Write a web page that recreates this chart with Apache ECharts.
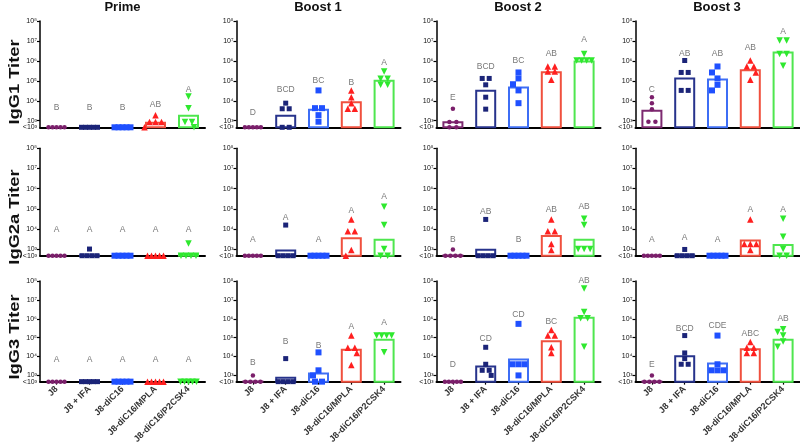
<!DOCTYPE html>
<html><head><meta charset="utf-8">
<script src="https://cdn.jsdelivr.net/npm/echarts@6/dist/echarts.min.js"></script>
<style>html,body{margin:0;padding:0;background:#fff}#c{width:800px;height:446px}</style>
</head><body><div id="c"></div>
<script>
// ---------- categories & labels ----------
const groups = ['J8', 'J8 + IFA', 'J8-diC16', 'J8-diC16/MPLA', 'J8-diC16/P2CSK4'];
const phases = ['Prime', 'Boost 1', 'Boost 2', 'Boost 3'];
const isotypes = ['IgG1 Titer', 'IgG2a Titer', 'IgG3 Titer'];
const yTickExps = [3, 4, 5, 6, 7, 8];           // tick labels 10^3 ... 10^8
const L = 2.67;                                  // "<10³" (below detection), log10 titer

// ---------- data (log10 titer per mouse), [J8, IFA, diC16, MPLA, P2CSK4] ----------
const IgG1_Prime  = [[L,L,L,L,L],[L,L,L,L,L],[L,L,L,L,L],[3.27,2.93,2.93,2.93,L],[4.22,3.62,2.93,2.93,L]];
const IgG1_Boost1 = [[L,L,L,L,L],[3.88,3.6,3.6,L,L],[4.52,3.63,3.63,3.28,2.95],[4.52,4.18,3.88,3.6,3.6],[5.47,5.1,5.1,4.8,4.8]];
const IgG1_Boost2 = [[3.6,2.93,2.93,L,L],[5.12,5.12,4.8,4.18,3.58],[5.42,5.12,4.83,4.52,3.88],[5.72,5.72,5.47,5.47,5.05],[6.35,6.02,6.02,6.02,6.02]];
const IgG1_Boost3 = [[4.18,3.88,3.58,2.95,2.95],[6.02,5.42,5.42,4.52,4.52],[5.72,5.42,5.12,4.8,4.52],[6.02,5.72,5.72,5.42,5.05],[7.02,7.02,6.35,6.35,5.75]];

const IgG2a_Prime  = [[L,L,L,L,L],[3.0,L,L,L,L],[L,L,L,L,L],[L,L,L,L,L],[3.28,L,L,L,L]];
const IgG2a_Boost1 = [[L,L,L,L,L],[4.19,L,L,L,L],[L,L,L,L,L],[4.47,3.88,3.88,2.95,L],[5.1,4.19,3.0,L,L]];
const IgG2a_Boost2 = [[2.98,L,L,L,L],[4.47,L,L,L,L],[L,L,L,L,L],[4.47,3.88,3.88,3.25,2.95],[4.5,4.19,3.0,3.0,3.0]];
const IgG2a_Boost3 = [[L,L,L,L,L],[2.98,L,L,L,L],[L,L,L,L,L],[4.47,3.25,3.25,3.25,2.95],[4.5,3.61,3.0,L,L]];

const IgG3_Prime  = [[L,L,L,L,L],[L,L,L,L,L],[L,L,L,L,L],[L,L,L,L,L],[L,L,L,L,L]];
const IgG3_Boost1 = [[3.0,L,L,L,L],[3.89,L,L,L,L],[4.22,3.27,3.0,L,L],[5.11,4.47,4.47,4.19,3.55],[5.11,5.11,5.11,5.11,4.22]];
const IgG3_Boost2 = [[L,L,L,L,L],[4.49,3.59,3.27,3.27,3.0],[5.73,3.59,3.59,3.59,3.0],[5.41,5.11,5.11,4.49,4.19],[7.6,6.36,6.03,6.03,4.52]];
const IgG3_Boost3 = [[3.0,L,L,L,L],[5.11,4.19,3.89,3.59,3.59],[5.11,3.59,3.27,3.27,3.27],[4.77,4.47,4.47,4.19,4.19],[5.44,5.3,5.11,4.8,4.52]];

// bar heights (group mean, log10 titer) per phase
const IgG1_means  = [[L,L,L,2.95,3.3],[L,3.3,3.6,3.97,5.05],[2.97,4.55,4.72,5.48,6.02],[3.55,5.17,5.12,5.58,6.47]];
const IgG2a_means = [[L,2.73,L,L,2.79],[L,2.98,L,3.58,3.51],[2.73,3.02,L,3.7,3.51],[L,2.73,L,3.48,3.25]];
const IgG3_means  = [[L,L,L,L,L],[2.73,2.93,3.15,4.41,4.94],[L,3.52,3.9,4.86,6.11],[2.73,4.07,3.69,4.44,4.94]];

// significance letters and the level (log10 titer) they sit at
const IgG1_letters  = [['B','B','B','AB','A'],['D','BCD','BC','B','A'],['E','BCD','BC','AB','A'],['C','AB','AB','AB','A']];
const IgG1_letterY  = [[3.65,3.65,3.65,3.83,4.58],[3.42,4.55,5.0,4.93,5.92],[4.18,5.72,6.02,6.38,7.05],[4.58,6.38,6.38,6.67,7.47]];
const IgG2a_letters = [['A','A','A','A','A'],['A','A','A','A','A'],['B','AB','B','AB','AB'],['A','A','A','A','A']];
const IgG2a_letterY = [[3.98,3.98,3.98,3.98,3.98],[3.48,4.57,3.48,4.89,5.6],[3.48,4.85,3.48,4.97,5.1],[3.48,3.58,3.48,4.97,4.97]];
const IgG3_letters  = [['A','A','A','A','A'],['B','B','B','A','A'],['D','CD','CD','BC','AB'],['E','BCD','CDE','ABC','AB']];
const IgG3_letterY  = [[3.82,3.82,3.82,3.82,3.82],[3.65,4.77,4.6,5.56,5.78],[3.55,4.94,6.23,5.83,8.0],[3.55,5.49,5.61,5.19,6.03]];

// ---------- assemble ----------
const points  = [[IgG1_Prime,IgG1_Boost1,IgG1_Boost2,IgG1_Boost3],
                 [IgG2a_Prime,IgG2a_Boost1,IgG2a_Boost2,IgG2a_Boost3],
                 [IgG3_Prime,IgG3_Boost1,IgG3_Boost2,IgG3_Boost3]];
const means   = [IgG1_means, IgG2a_means, IgG3_means];
const letters = [IgG1_letters, IgG2a_letters, IgG3_letters];
const letterY = [IgG1_letterY, IgG2a_letterY, IgG3_letterY];

// ---------- style / layout ----------
const FONT = 'Liberation Sans, Arial, sans-serif';
const colLeft = [40, 236.5, 436.5, 635.5], colWidth = [165, 164, 164, 164];
const rowTop = [21, 148.3, 281], rowHeight = [106.3, 107.4, 106];
const pointColors = ['#7b1f6b', '#1b2478', '#1f50ff', '#ff1f1f', '#2ee82e'];
const barColors   = ['#7d2a70', '#27338c', '#3e6ef5', '#f0503e', '#4ee64e'];
const symbols     = ['circle', 'rect', 'rect', 'triangle', 'triangle'];
const symRot      = [0, 0, 0, 0, 180];
const symSize     = [4.5, 5, 6, 6.5, 6.5];
const sup = {3:'³',4:'⁴',5:'⁵',6:'⁶',7:'⁷',8:'⁸'};

// column-scatter spreading (beeswarm-like), in pixels; PX = approx pixels per decade
function jitter(vals) {
  const PX = 20, S = 5.5, DY = 6;
  const n = vals.length, offs = new Array(n).fill(0);
  const order = vals.map((v, i) => i).sort((a, b) => vals[b] - vals[a]);
  const placed = [];
  order.forEach(i => {
    const y = vals[i] * PX;
    for (let k = 0; k < 20; k++) {
      const cand = k === 0 ? 0 : (k % 2 ? -1 : 1) * Math.ceil(k / 2) * S;
      if (!placed.some(p => Math.abs(p.dx - cand) < S - 0.01 && Math.abs(p.y - y) < DY)) {
        offs[i] = cand; placed.push({ dx: cand, y }); break;
      }
    }
  });
  const done = new Array(n).fill(false);
  for (let i = 0; i < n; i++) {
    if (done[i]) continue;
    const same = [];
    for (let j = 0; j < n; j++) if (!done[j] && Math.abs(vals[j] - vals[i]) < 0.02) { same.push(j); done[j] = true; }
    if (same.length < 2) continue;
    const k = same.length, s = k >= 5 ? 4 : k === 4 ? 5 : k === 3 ? 6 : 7;
    same.sort((a, b) => offs[a] - offs[b]).forEach((idx, m) => offs[idx] = (m - (k - 1) / 2) * s);
  }
  return offs;
}

const grids = [], xAxes = [], yAxes = [], series = [];
let gi = 0;
for (let r = 0; r < 3; r++) {
  for (let c = 0; c < 4; c++) {
    grids.push({ left: colLeft[c], top: rowTop[r], width: colWidth[c], height: rowHeight[r] });
    const bottom = r === 2;
    xAxes.push({
      type: 'category', gridIndex: gi, data: groups, boundaryGap: true,
      axisLine: { show: true, lineStyle: { color: '#000', width: 2 } },
      axisTick: { show: bottom, alignWithLabel: true, length: 3, lineStyle: { color: '#000', width: 1.2 } },
      axisLabel: { show: bottom, rotate: 45, interval: 0, fontSize: 9, fontWeight: 'bold',
                   color: '#333', fontFamily: FONT, margin: 6 },
      splitLine: { show: false }
    });
    // main log-titer axis (10^3 ... 10^8)
    yAxes.push({
      type: 'value', gridIndex: gi, min: L, max: 8,
      axisLine: { show: true, lineStyle: { color: '#000', width: 1.5 } },
      axisTick: { show: true, length: 3, customValues: yTickExps, lineStyle: { color: '#000', width: 1.2 } },
      axisLabel: { show: true, customValues: yTickExps, fontSize: 7, color: '#111',
                   fontFamily: FONT, margin: 3, showMinLabel: true, showMaxLabel: true,
                   formatter: v => '10' + sup[Math.round(v)] },
      splitLine: { show: false }
    });
    // companion axis carrying only the "<10³" floor label
    yAxes.push({
      type: 'value', gridIndex: gi, min: L, max: 8, position: 'left', offset: 0,
      axisLine: { show: false }, axisTick: { show: false }, splitLine: { show: false },
      axisLabel: { show: true, customValues: [L], fontSize: 7, color: '#111', fontFamily: FONT,
                   margin: 3, showMinLabel: true, formatter: () => '<10³' }
    });
    const yi = gi * 2;
    series.push({
      type: 'bar', xAxisIndex: gi, yAxisIndex: yi, barWidth: 21, z: 2, clip: true,
      data: means[r][c].map((v, k) => ({ value: v,
        itemStyle: { color: 'rgba(255,255,255,0)', borderColor: barColors[k], borderWidth: 2 } }))
    });
    for (let k = 0; k < 5; k++) {
      const vals = points[r][c][k], offs = jitter(vals);
      series.push({
        type: 'scatter', xAxisIndex: gi, yAxisIndex: yi, clip: false, z: 3,
        symbol: symbols[k], symbolRotate: symRot[k], symbolSize: symSize[k],
        itemStyle: { color: pointColors[k], opacity: 1 },
        data: vals.map((v, m) => ({ value: [k, v], symbolOffset: [offs[m], 0] }))
      });
    }
    series.push({
      type: 'scatter', xAxisIndex: gi, yAxisIndex: yi, clip: false, z: 4, symbolSize: 1,
      itemStyle: { color: 'rgba(0,0,0,0)' }, silent: true,
      label: { show: true, position: 'inside', fontSize: 8.5, color: '#555', fontFamily: FONT,
               formatter: p => letters[r][c][p.dataIndex] },
      data: letterY[r][c].map((v, k) => [k, v])
    });
    gi++;
  }
}

const graphics = [];
const titleX = [122.5, 318, 518, 717];
phases.forEach((p, c) => graphics.push({ type: 'text', x: titleX[c], y: 7,
  style: { text: p, font: 'bold 13px ' + FONT, fill: '#111', textAlign: 'center', textVerticalAlign: 'middle' } }));
const nameY = [82, 217, 337];
isotypes.forEach((t, r) => graphics.push({ type: 'text', x: 15, y: nameY[r], rotation: Math.PI / 2, scaleX: 1.22,
  style: { text: t, font: 'bold 15px ' + FONT, fill: '#111', textAlign: 'center', textVerticalAlign: 'middle' } }));

const chart = echarts.init(document.getElementById('c'), null, { renderer: 'canvas' });
chart.setOption({
  animation: false, backgroundColor: '#fff',
  grid: grids, xAxis: xAxes, yAxis: yAxes, series: series, graphic: graphics
});
</script>
</body></html>
